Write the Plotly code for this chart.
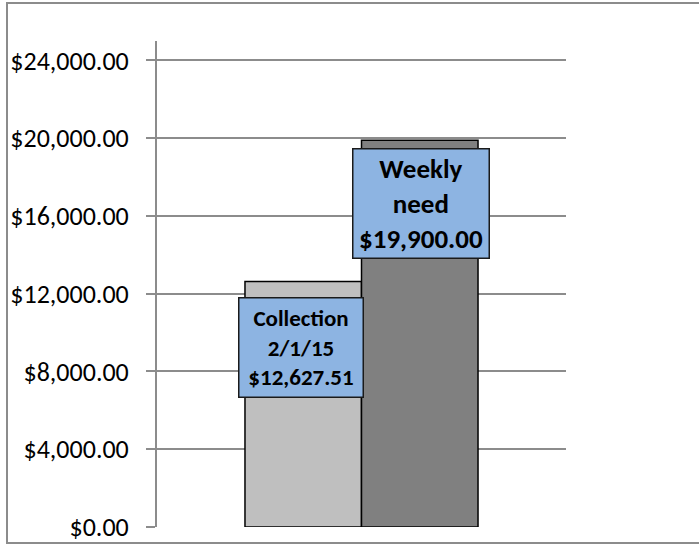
import plotly.graph_objects as go

series_names = ["Collection 2/1/15", "Weekly need"]
values = [12627.51, 19900.00]
bar_colors = ["#BFBFBF", "#808080"]
label_texts = ["<b>Collection<br>2/1/15<br>$12,627.51</b>", "<b>Weekly<br>need<br>$19,900.00</b>"]
tick_values = [0, 4000, 8000, 12000, 16000, 20000, 24000]
tick_labels = ["$0.00", "$4,000.00", "$8,000.00", "$12,000.00", "$16,000.00", "$20,000.00", "$24,000.00"]

FONT = "Carlito, Calibri, Lato, sans-serif"

fig = go.Figure()
for i, (name, v, c) in enumerate(zip(series_names, values, bar_colors)):
    fig.add_trace(go.Bar(
        x=[i], y=[v], name=name, width=1,
        marker=dict(color=c, line=dict(color="#000000", width=1.5)),
        hoverinfo="skip",
    ))

label_cfg = [
    dict(yshift=-15, width=119, height=94, size=23, xshift=-2),
    dict(yshift=-8, width=131, height=104, size=27, xshift=1),
]
for i, (v, t, cfg) in enumerate(zip(values, label_texts, label_cfg)):
    fig.add_annotation(
        x=i, y=v, xref="x", yref="y", text=t, showarrow=False,
        yanchor="top", yshift=cfg["yshift"], xshift=cfg["xshift"],
        width=cfg["width"], height=cfg["height"],
        bgcolor="#8DB4E2", bordercolor="#1a1a1a", borderwidth=1.5, borderpad=2,
        font=dict(family=FONT, size=cfg["size"], color="#000000"),
        align="center", valign="middle",
    )

# outer chart border
fig.add_shape(type="rect", xref="paper", yref="paper",
              x0=(7 - 157) / 409, x1=(702 - 157) / 409,
              y0=(527 - 543) / 486, y1=(527 - 3) / 486,
              line=dict(color="#8c8c8c", width=2), layer="below")

fig.update_layout(
    width=699, height=546,
    margin=dict(l=157, r=133, t=41, b=19),
    paper_bgcolor="white", plot_bgcolor="white",
    showlegend=False, barmode="overlay",
    font=dict(family=FONT, color="#000000"),
    xaxis=dict(range=[-1.255, 2.255], showticklabels=False, showgrid=False,
               zeroline=False, showline=False, ticks="", fixedrange=True,
               automargin=False),
    yaxis=dict(range=[0, 25000], tickvals=tick_values, ticktext=tick_labels,
               showgrid=True, gridcolor="#8c8c8c", gridwidth=2,
               zeroline=False, showline=True, linecolor="#8c8c8c", linewidth=2,
               ticks="outside", ticklen=9, tickcolor="#8c8c8c", tickwidth=2,
               ticklabelstandoff=12,
               tickfont=dict(family=FONT, size=26, color="#000000"),
               fixedrange=True, automargin=False),
)

fig.write_html("out.html", config={"displayModeBar": False},
               post_script="document.body.style.margin='0';document.body.style.overflow='hidden';")
